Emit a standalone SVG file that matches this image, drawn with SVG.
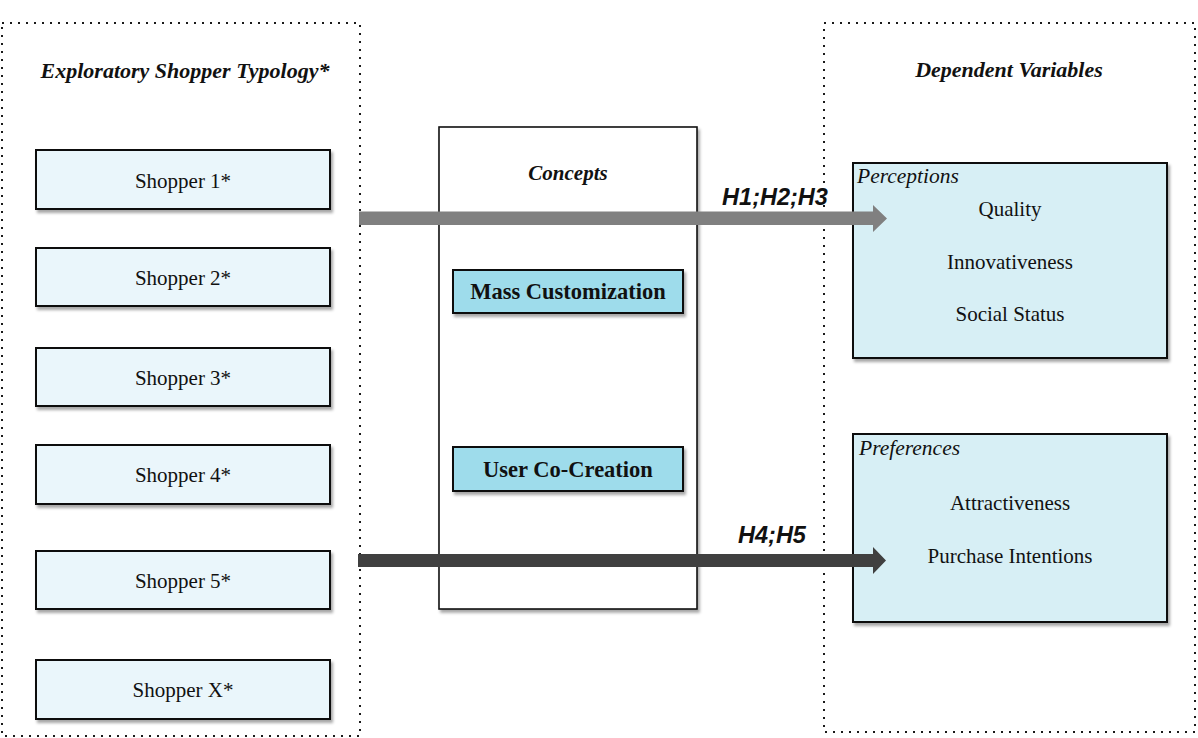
<svg xmlns="http://www.w3.org/2000/svg" width="1198" height="738" viewBox="0 0 1198 738">
  <defs>
    <filter id="shadow" x="-5%" y="-10%" width="112%" height="130%">
      <feDropShadow dx="2" dy="3" stdDeviation="1.6" flood-color="#000" flood-opacity="0.35"/>
    </filter>
    <style>
      .frame { fill: none; stroke: #1a1a1a; stroke-width: 2; stroke-dasharray: 2 6; }
      .shopper { fill: #EAF6FB; stroke: #111; stroke-width: 2; filter: url(#shadow); }
      .concept { fill: #9EDCEB; stroke: #111; stroke-width: 2; filter: url(#shadow); }
      .group { fill: #D7EFF5; stroke: #111; stroke-width: 2; filter: url(#shadow); }
      .panel { fill: #fff; stroke: #111; stroke-width: 1.6; filter: url(#shadow); }
      .serif { font-family: "Liberation Serif", "Times New Roman", serif; fill: #111; }
      .title { font-size: 22px; font-weight: bold; font-style: italic; text-anchor: middle; }
      .item { font-size: 21px; text-anchor: middle; }
      .tag { font-size: 21.5px; font-style: italic; }
      .bold { font-size: 22.5px; font-weight: bold; text-anchor: middle; }
      .hyp { font-family: "Liberation Sans", Arial, sans-serif; font-size: 23.5px; font-weight: bold; font-style: italic; text-anchor: middle; fill: #111; }
    </style>
  </defs>

  <rect width="1198" height="738" fill="#fff"/>

  <!-- dotted frames -->
  <g id="typology-frame">
    <rect class="frame" x="2" y="23" width="358" height="713"/>
    <text class="serif title" x="185" y="78">Exploratory Shopper Typology*</text>
  </g>
  <g id="dependent-frame">
    <rect class="frame" x="824" y="23" width="371" height="709"/>
    <text class="serif title" x="1009" y="77">Dependent Variables</text>
  </g>

  <!-- shoppers -->
  <g id="shopper-1"><rect class="shopper" x="36" y="150" width="294" height="59"/><text class="serif item" x="183" y="188">Shopper 1*</text></g>
  <g id="shopper-2"><rect class="shopper" x="36" y="248" width="294" height="58"/><text class="serif item" x="183" y="285">Shopper 2*</text></g>
  <g id="shopper-3"><rect class="shopper" x="36" y="348" width="294" height="58"/><text class="serif item" x="183" y="385">Shopper 3*</text></g>
  <g id="shopper-4"><rect class="shopper" x="36" y="445" width="294" height="59"/><text class="serif item" x="183" y="482">Shopper 4*</text></g>
  <g id="shopper-5"><rect class="shopper" x="36" y="551" width="294" height="58"/><text class="serif item" x="183" y="588">Shopper 5*</text></g>
  <g id="shopper-x"><rect class="shopper" x="36" y="660" width="294" height="59"/><text class="serif item" x="183" y="697">Shopper X*</text></g>

  <!-- concepts -->
  <g id="concepts">
    <rect class="panel" x="439" y="127" width="258" height="482"/>
    <text class="serif title" x="568" y="180" style="font-size:21px">Concepts</text>
  </g>
  <g id="mass-customization">
    <rect class="concept" x="453" y="270" width="230" height="43"/>
    <text class="serif bold" x="568" y="299">Mass Customization</text>
  </g>
  <g id="user-co-creation">
    <rect class="concept" x="453" y="447" width="230" height="44"/>
    <text class="serif bold" x="568" y="477">User Co-Creation</text>
  </g>

  <!-- dependent variable groups -->
  <g id="perceptions">
    <rect class="group" x="853" y="163" width="314" height="195"/>
    <text class="serif tag" x="857" y="183">Perceptions</text>
    <text class="serif item" x="1010" y="216">Quality</text>
    <text class="serif item" x="1010" y="269">Innovativeness</text>
    <text class="serif item" x="1010" y="321">Social Status</text>
  </g>
  <g id="preferences">
    <rect class="group" x="853" y="434" width="314" height="188"/>
    <text class="serif tag" x="859" y="455">Preferences</text>
    <text class="serif item" x="1010" y="510">Attractiveness</text>
    <text class="serif item" x="1010" y="563">Purchase Intentions</text>
  </g>

  <!-- connectors -->
  <g id="connectors">
    <polygon fill="#808080" points="359,211.5 873,211.5 873,205 887,218.5 873,232 873,225 359,225"/>
    <text class="hyp" x="775" y="205">H1;H2;H3</text>
    <polygon fill="#404040" points="358,554 873,554 873,547 886,560.5 873,574 873,567 358,567"/>
    <text class="hyp" x="772" y="543">H4;H5</text>
  </g>
</svg>
